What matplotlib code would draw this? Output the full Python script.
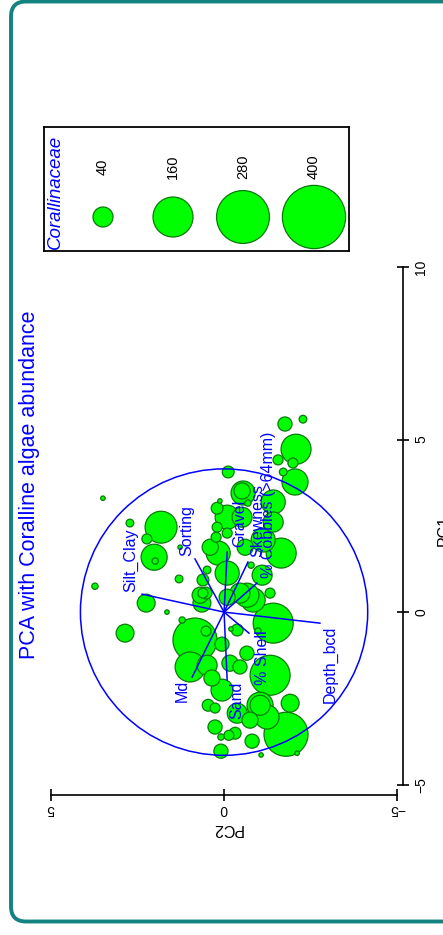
import numpy as np
import matplotlib
matplotlib.use("Agg")
import matplotlib.pyplot as plt
from matplotlib.patches import Circle, FancyBboxPatch
from matplotlib.transforms import IdentityTransform

plt.rcParams["font.family"] = ["Liberation Sans", "DejaVu Sans"]

# site scores on the first two principal components, with Corallinaceae abundance
pc1 = [5.59, 5.45, 4.72, 4.32, 4.06, 4.41, 3.77, 4.06, 3.45, 3.51, 3.19, 3.16, 3.22, 3.01,
       2.75, 2.75, 2.46, 2.29, 2.17, 1.88, 1.71, 2.09, 1.71, 1.36, 1.22, 1.13, 0.49, 0.55,
       2.46, 1.59, 1.48, 2.12, 2.58, 3.30, 0.75, 1.88, 0.96, 0.26, 0.00, 0.55, 0.26, -0.61,
       -0.23, -0.81, -0.55, -1.59, -1.54, -1.91, -0.93, -1.19, -1.83, -0.32, -2.26, -2.70,
       -2.78, -3.33, -3.62, -3.51, -3.57, -4.03, -3.74, -4.14, -3.54, -2.70, -2.70, -2.64,
       -3.04, -4.09, -1.59, -0.52, -0.49, -0.55, -1.48, 0.43, 0.55, 0.35, 0.49, -2.93, -3.13,
       2.61, 0.55, 1.88, 1.07, 0.93]
pc2 = [-2.28, -1.76, -2.08, -1.99, -1.71, -1.56, -2.05, -0.12, -0.55, -0.52, -1.42, -0.69,
       0.12, 0.20, -0.09, -0.52, 0.20, -0.09, 0.23, -0.61, -1.65, -1.13, 0.17, -0.78, 0.49,
       -0.09, -0.66, -1.33, 1.82, 2.02, 1.99, 2.23, 2.72, 3.50, 3.73, 1.27, 1.30, 2.25, 1.65,
       0.61, 0.64, 2.86, 1.21, 0.84, 0.52, 0.98, 0.49, 0.35, 0.06, -0.66, -1.33, -1.42, 0.06,
       0.46, 0.26, 0.26, 0.09, -0.32, -0.14, 0.09, -0.81, -1.07, -1.79, -1.04, -1.04, -1.91,
       -1.24, -2.11, -0.46, -0.38, -0.20, -0.98, -0.17, -0.09, -0.46, -0.84, 0.69, -0.38, -0.75,
       -1.42, 0.52, 0.40, -1.10, 0.61]
abundance = [6, 20, 90, 10, 6, 10, 68, 14, 58, 26, 58, 4, 2, 14,
             58, 40, 10, 10, 10, 26, 90, 58, 58, 4, 6, 58, 58, 10,
             102, 68, 4, 10, 6, 2, 4, 2, 6, 32, 2, 10, 32, 32,
             4, 194, 10, 90, 40, 26, 20, 20, 160, 160, 48, 14,
             10, 20, 4, 14, 10, 20, 20, 2, 194, 68, 40, 32,
             58, 2, 20, 14, 2, 4, 26, 26, 40, 58, 26, 40, 26,
             40, 14, 26, 40, 14]

# variable loadings (arrow tips) and where their labels sit
var_names = ["Silt_Clay", "Sorting", "Gravel", "Skewness", "% Cobbles (>64mm)",
             "Depth_bcd", "% Shell", "Sand", "Md"]
load_pc1 = [0.52, 1.54, 1.74, 1.45, 0.84, -0.32, -0.61, -1.97, -1.88]
load_pc2 = [2.37, 0.84, -0.09, -0.69, -0.95, -2.77, -0.72, -0.09, 0.92]
lab_pc1 = [1.51, 2.35, 2.58, 2.64, 3.10, -1.51, -1.33, -2.55, -2.29]
lab_pc2 = [2.69, 1.07, -0.46, -0.98, -1.27, -3.06, -1.10, -0.38, 1.21]
circle_radius = 4.15

legend_values = [40, 160, 280, 400]

FILL = "#00ff00"
EDGE = "#0a7a0a"
SIZE_K = 5.18  # points^2 per unit of abundance (area ~ abundance)

fig = plt.figure(figsize=(4.43, 9.35), dpi=100)

# rounded teal frame
frame = FancyBboxPatch((11, 13.5), 470, 920, boxstyle="round,pad=0,rounding_size=15",
                       transform=IdentityTransform(), fc="none", ec="#138280", lw=2.8)
fig.add_artist(frame)

# main plot, drawn turned a quarter: PC2 runs right-to-left, PC1 runs upwards
ax = fig.add_axes([51 / 443, 1 - 795 / 935, 352 / 443, 528 / 935])
ax.set_xlim(5, -5.17)
ax.set_ylim(-5.30, 10)

order = np.argsort(abundance)[::-1]
ax.scatter(np.array(pc2)[order], np.array(pc1)[order], s=SIZE_K * np.array(abundance)[order],
           c=FILL, edgecolors=EDGE, linewidths=0.9, zorder=2)

ax.add_patch(Circle((0, 0), circle_radius, fc="none", ec="blue", lw=1.1, zorder=3))
for p1, p2 in zip(load_pc1, load_pc2):
    ax.plot([0, p2], [0, p1], color="blue", lw=1.1, zorder=3)
for name, p1, p2 in zip(var_names, lab_pc1, lab_pc2):
    ax.text(p2, p1, name, rotation=90, color="blue", fontsize=11.5,
            ha="center", va="center", zorder=4)

for s in ["top", "left"]:
    ax.spines[s].set_visible(False)
ax.spines["right"].set_bounds(-5, 10)
ax.spines["bottom"].set_bounds(-5, 5)
for s in ["right", "bottom"]:
    ax.spines[s].set_linewidth(1.2)
ax.yaxis.tick_right()
ax.yaxis.set_label_position("right")
ax.set_yticks([-5, 0, 5, 10])
ax.set_xticks([5, 0, -5])
ax.tick_params(axis="y", direction="inout", length=8, width=1.2, labelsize=10,
               labelrotation=90, pad=4)
ax.tick_params(axis="x", direction="inout", length=8, width=1.2, labelsize=10,
               labelrotation=180, pad=1)
for lab in ax.get_yticklabels():
    lab.set_va("center")
ax.set_ylabel("PC1", fontsize=11.5, rotation=90, labelpad=6)
ax.set_xlabel("PC2", fontsize=11.5, rotation=180, labelpad=4)
ax.patch.set_visible(False)

fig.text(30 / 443, 1 - 485 / 935, "PCA with Coralline algae abundance", rotation=90,
         color="blue", fontsize=15.5, ha="center", va="center")

# bubble size legend
lax = fig.add_axes([44 / 443, 1 - 251 / 935, 305 / 443, 124 / 935])
lax.set_xlim(0, 305)
lax.set_ylim(124, 0)
lax.set_xticks([])
lax.set_yticks([])
for s in lax.spines.values():
    s.set_linewidth(1.3)
leg_x = [59, 129, 199, 270]
lax.scatter(leg_x, [90] * len(legend_values), s=SIZE_K * np.array(legend_values),
            c=FILL, edgecolors=EDGE, linewidths=0.9, clip_on=False)
for xx, v in zip(leg_x, legend_values):
    lax.text(xx, 40, str(v), rotation=90, fontsize=10.5, ha="center", va="center")
lax.text(11, 122, "Corallinaceae", rotation=90, style="italic", color="blue",
         fontsize=13.5, ha="center", va="bottom")

fig.savefig("out.png", dpi=100)
